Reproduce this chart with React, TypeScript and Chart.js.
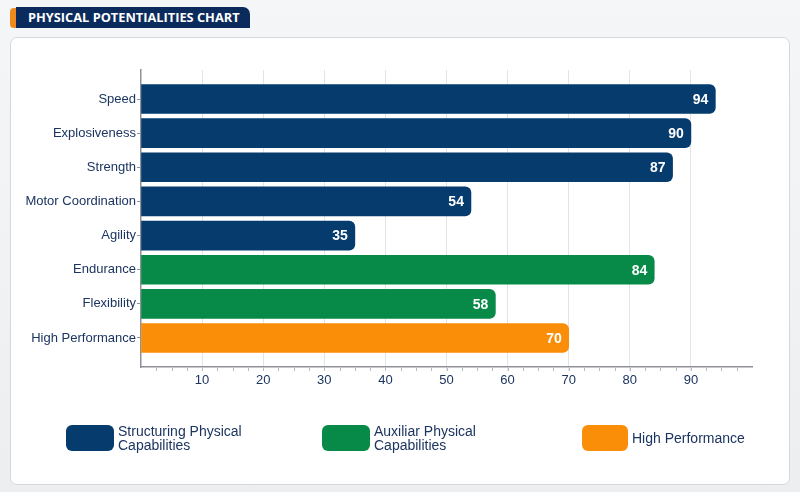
import React, { useEffect, useRef } from "react";
import { Chart, registerables } from "chart.js";

Chart.register(...registerables);

const categories = [
  "Speed",
  "Explosiveness",
  "Strength",
  "Motor Coordination",
  "Agility",
  "Endurance",
  "Flexibility",
  "High Performance",
];
const structuringValues = [94, 90, 87, 54, 35, null, null, null];
const auxiliarValues = [null, null, null, null, null, 84, 58, null];
const highPerfValues = [null, null, null, null, null, null, null, 70];
const seriesNames = ["Structuring Physical\nCapabilities", "Auxiliar Physical\nCapabilities", "High Performance"];
const seriesColors = ["#053b6d", "#078a48", "#fb8e08"];
const xTickValues = [10, 20, 30, 40, 50, 60, 70, 80, 90];

const TEXT = "#1c3560";

const valueLabels = {
  id: "valueLabels",
  afterDatasetsDraw(chart: any) {
    const ctx = chart.ctx;
    ctx.save();
    ctx.fillStyle = "#ffffff";
    ctx.font = "bold 14px 'Liberation Sans', Arial, sans-serif";
    ctx.textAlign = "right";
    ctx.textBaseline = "middle";
    chart.data.datasets.forEach((ds: any, di: number) => {
      const meta = chart.getDatasetMeta(di);
      meta.data.forEach((el: any, i: number) => {
        const raw = ds.data[i];
        if (!raw) return;
        ctx.fillText(String(raw.x), el.x - 7, el.y + 1);
      });
    });
    ctx.restore();
  },
};

const minorTicks = {
  id: "minorTicks",
  afterDraw(chart: any) {
    const ctx = chart.ctx;
    const xs = chart.scales.x;
    const y = chart.chartArea.bottom;
    ctx.save();
    ctx.strokeStyle = "#b8bcc2";
    ctx.lineWidth = 1;
    for (let v = 2.5; v < 100; v += 2.5) {
      const px = Math.round(xs.getPixelForValue(v)) + 0.5;
      ctx.beginPath();
      ctx.moveTo(px, y + 1);
      ctx.lineTo(px, y + 4);
      ctx.stroke();
    }
    ctx.restore();
  },
};

const toPoints = (vals: (number | null)[]) =>
  vals
    .map((v, i) => (v == null ? null : { x: v, y: i }))
    .filter((p) => p !== null);

function ChartCanvas() {
  const ref = useRef<HTMLCanvasElement | null>(null);
  useEffect(() => {
    if (!ref.current) return;
    const mk = (label: string, data: any[], color: string) => ({
      label,
      data: toPoints(data),
      backgroundColor: color,
      borderRadius: 6,
      borderSkipped: "start",
      barThickness: 29,
      grouped: false,
    });
    const chart = new Chart(ref.current, {
      type: "bar",
      data: {
        datasets: [
          mk(seriesNames[0], structuringValues, seriesColors[0]),
          mk(seriesNames[1], auxiliarValues, seriesColors[1]),
          mk(seriesNames[2], highPerfValues, seriesColors[2]),
        ] as any,
      },
      options: {
        indexAxis: "y",
        animation: false,
        responsive: false,
        maintainAspectRatio: false,
        layout: { padding: { left: 0, right: 48, top: 70, bottom: 95 } },
        plugins: {
          legend: { display: false },
          tooltip: { enabled: false },
        },
        scales: {
          x: {
            type: "linear",
            min: 0,
            max: 100,
            offset: false,
            afterBuildTicks: (axis: any) => {
              axis.ticks = [0, ...xTickValues, 100].map((v) => ({ value: v }));
            },
            afterFit: (axis: any) => {
              axis.height = 30;
            },
            ticks: {
              color: TEXT,
              font: { family: "'Liberation Sans', Arial, sans-serif", size: 13 },
              padding: 2,
              callback: (v: any) => (xTickValues.includes(v) ? String(v) : ""),
            },
            grid: {
              offset: false,
              color: (c: any) => (xTickValues.includes(c.tick?.value) ? "#e2e4e7" : "rgba(0,0,0,0)"),
              tickLength: 4,
              lineWidth: 1,
            },
            border: { color: "#8e9298", width: 1.5 },
          },
          y: {
            type: "linear",
            min: -0.85,
            max: 7.85,
            reverse: true,
            offset: false,
            afterBuildTicks: (axis: any) => {
              axis.ticks = categories.map((_, i) => ({ value: i }));
            },
            afterFit: (axis: any) => {
              axis.width = 141;
            },
            ticks: {
              color: TEXT,
              font: { family: "'Liberation Sans', Arial, sans-serif", size: 13 },
              padding: 1,
              autoSkip: false,
              callback: (v: any) => categories[v] ?? "",
            },
            grid: {
              offset: false,
              drawOnChartArea: false,
              tickLength: 4,
              color: "#8e9298",
            },
            border: { color: "#8e9298", width: 1.5 },
          },
        },
      } as any,
      plugins: [valueLabels, minorTicks],
    });
    return () => chart.destroy();
  }, []);
  return (
    <canvas
      ref={ref}
      width={800}
      height={492}
      style={{ position: "absolute", left: 0, top: 0, width: 800, height: 492 }}
    />
  );
}

export default function App() {
  const legendPos = [
    { box: 66, w: 48 },
    { box: 322, w: 48 },
    { box: 582, w: 46 },
  ];
  return (
    <div
      style={{
        position: "absolute",
        left: 0,
        top: 0,
        width: 800,
        height: 492,
        background: "linear-gradient(#f5f6f7, #eceef0)",
        overflow: "hidden",
        fontFamily: "'Liberation Sans', Arial, sans-serif",
      }}
    >
      <div
        style={{
          position: "absolute",
          left: 10,
          top: 37,
          width: 778,
          height: 446,
          background: "#ffffff",
          border: "1px solid #d6d8db",
          borderRadius: 7,
        }}
      />
      <div
        style={{
          position: "absolute",
          left: 10,
          top: 8,
          width: 10,
          height: 20,
          background: "#f08a1c",
          borderRadius: "4px 0 0 4px",
        }}
      />
      <div
        style={{
          position: "absolute",
          left: 16,
          top: 7,
          width: 234,
          height: 21,
          background: "#0b2b5c",
          borderRadius: "0 7px 0 0",
          color: "#ffffff",
          fontFamily: "'Open Sans', sans-serif",
          fontWeight: 700,
          fontSize: 12.8,
          lineHeight: "21px",
          paddingLeft: 12,
          boxSizing: "border-box",
          whiteSpace: "nowrap",
          letterSpacing: 0,
        }}
      >
        PHYSICAL POTENTIALITIES CHART
      </div>
      <ChartCanvas />
      {seriesNames.map((name, i) => (
        <div key={i}>
          <div
            style={{
              position: "absolute",
              left: legendPos[i].box,
              top: 425,
              width: legendPos[i].w,
              height: 26,
              background: seriesColors[i],
              borderRadius: 6,
            }}
          />
          <div
            style={{
              position: "absolute",
              left: legendPos[i].box + legendPos[i].w + 4,
              top: 438,
              transform: "translateY(-50%)",
              color: TEXT,
              fontSize: 14,
              lineHeight: "14px",
              whiteSpace: "pre",
            }}
          >
            {name}
          </div>
        </div>
      ))}
    </div>
  );
}
